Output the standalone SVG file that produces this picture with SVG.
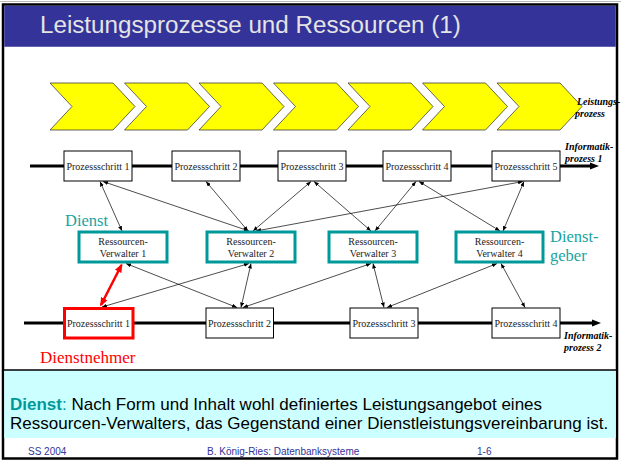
<svg xmlns="http://www.w3.org/2000/svg" width="621" height="461" viewBox="0 0 621 461">
<style>
.ps{fill:#fff;stroke:#000;stroke-width:1}
.rv{fill:#fff;stroke:#009999;stroke-width:3}
.chev{fill:#ffff00;stroke:#404040;stroke-width:0.8}
.t10{font-family:"Liberation Serif","Times New Roman",serif;font-size:10px;fill:#222;text-anchor:middle}
.lbl{font-family:"Liberation Serif","Times New Roman",serif;font-size:10px;font-weight:bold;font-style:italic;fill:#000}
.teal{font-family:"Liberation Serif","Times New Roman",serif;font-size:16.5px;fill:#1aa3a3}
.con{stroke:#000;stroke-width:0.7;fill:none;marker-start:url(#ah);marker-end:url(#ah)}
.main{stroke:#000;stroke-width:3;fill:none;marker-end:url(#big)}
.foot{font-family:"Liberation Sans",Arial,sans-serif;font-size:10px;fill:#333399}
.body{font-family:"Liberation Sans",Arial,sans-serif;font-size:17px;fill:#000}
</style>
<defs>
<marker id="ah" viewBox="0 0 10 8" refX="10" refY="4" markerWidth="5" markerHeight="4" markerUnits="userSpaceOnUse" orient="auto-start-reverse"><path d="M0,0 L10,4 L0,8 z" fill="#000"/></marker>
<marker id="big" viewBox="0 0 10 8" refX="0" refY="4" markerWidth="9" markerHeight="7.2" markerUnits="userSpaceOnUse" orient="auto"><path d="M0,0 L10,4 L0,8 z" fill="#000"/></marker>
<marker id="red" viewBox="0 0 10 8" refX="8" refY="4" markerWidth="9" markerHeight="7.2" markerUnits="userSpaceOnUse" orient="auto-start-reverse"><path d="M0,0 L10,4 L0,8 z" fill="#ff0000"/></marker>
</defs>

<!-- slide frame -->
<g id="frame">
<rect x="0" y="0" width="621" height="461" fill="#fff"/>
<line x1="0" y1="1.5" x2="621" y2="1.5" stroke="#bbb" stroke-width="1"/>
<rect x="3" y="4.5" width="614" height="454" fill="#fff" stroke="#000" stroke-width="2.5"/>
<rect x="4.25" y="5.75" width="611.5" height="41" fill="#333399"/>
<text x="40" y="33" font-family="'Liberation Sans',Arial,sans-serif" font-size="24.2" fill="#e4e4e4">Leistungsprozesse und Ressourcen (1)</text>
</g>

<!-- Leistungsprozess chevrons -->
<g id="leistungsprozess">
<polygon class="chev" points="50,83 113,83 135,106.5 113,130 50,130 72,106.5"/>
<polygon class="chev" points="124.5,83 187.5,83 209.5,106.5 187.5,130 124.5,130 146.5,106.5"/>
<polygon class="chev" points="199,83 262,83 284,106.5 262,130 199,130 221,106.5"/>
<polygon class="chev" points="273.5,83 336.5,83 358.5,106.5 336.5,130 273.5,130 295.5,106.5"/>
<polygon class="chev" points="348,83 411,83 433,106.5 411,130 348,130 370,106.5"/>
<polygon class="chev" points="422.5,83 485.5,83 507.5,106.5 485.5,130 422.5,130 444.5,106.5"/>
<polygon class="chev" points="497,83 560,83 582,106.5 560,130 497,130 519,106.5"/>
<text class="lbl" x="577" y="104.5" font-size="9.5">Leistungs-</text>
<text class="lbl" x="575" y="116.5" font-size="9.5">prozess</text>
</g>

<!-- process lines -->
<g id="prozesslinien">
<line class="main" x1="30" y1="166" x2="590" y2="166"/>
<line class="main" x1="24" y1="323" x2="592" y2="323"/>
</g>

<!-- connectors -->
<g id="connectors">
<line class="con" x1="100" y1="181.5" x2="122" y2="231"/>
<line class="con" x1="103" y1="181.5" x2="249" y2="231"/>
<line class="con" x1="206" y1="181.5" x2="248" y2="231"/>
<line class="con" x1="311" y1="181.5" x2="253" y2="231"/>
<line class="con" x1="256" y1="231" x2="523" y2="181.5"/>
<line class="con" x1="314" y1="181.5" x2="371" y2="231"/>
<line class="con" x1="416" y1="181.5" x2="375" y2="231"/>
<line class="con" x1="419" y1="181.5" x2="500" y2="231"/>
<line class="con" x1="524" y1="181.5" x2="503" y2="231"/>
<line class="con" x1="126" y1="263.5" x2="237" y2="307.5"/>
<line class="con" x1="249" y1="263.5" x2="102" y2="307"/>
<line class="con" x1="251" y1="263.5" x2="241" y2="307.5"/>
<line class="con" x1="371" y1="263.5" x2="243" y2="307.5"/>
<line class="con" x1="373" y1="263.5" x2="384" y2="307.5"/>
<line class="con" x1="497" y1="263.5" x2="387" y2="307.5"/>
<line class="con" x1="501" y1="263.5" x2="525" y2="307.5"/>
<line x1="121.5" y1="265" x2="101" y2="305" stroke="#ff0000" stroke-width="2.5" marker-start="url(#red)" marker-end="url(#red)"/>
</g>

<!-- Informatikprozess 1 -->
<g id="ip1-ps1"><rect class="ps" x="64" y="151" width="68" height="30"/><text class="t10" x="98" y="170">Prozessschritt 1</text></g>
<g id="ip1-ps2"><rect class="ps" x="172" y="151" width="68" height="30"/><text class="t10" x="206" y="170">Prozessschritt 2</text></g>
<g id="ip1-ps3"><rect class="ps" x="278" y="151" width="68" height="30"/><text class="t10" x="312" y="170">Prozessschritt 3</text></g>
<g id="ip1-ps4"><rect class="ps" x="383" y="151" width="68" height="30"/><text class="t10" x="417" y="170">Prozessschritt 4</text></g>
<g id="ip1-ps5"><rect class="ps" x="492" y="151" width="68" height="30"/><text class="t10" x="526" y="170">Prozessschritt 5</text></g>
<g id="ip1-label">
<text class="lbl" x="565" y="150">Informatik-</text>
<text class="lbl" x="565" y="161.5">prozess 1</text>
</g>

<!-- Ressourcen-Verwalter -->
<g id="rv1"><rect class="rv" x="79" y="232" width="88" height="30"/><text class="t10" x="123" y="245">Ressourcen-</text><text class="t10" x="123" y="256.5">Verwalter 1</text></g>
<g id="rv2"><rect class="rv" x="207" y="232" width="88" height="30"/><text class="t10" x="251" y="245">Ressourcen-</text><text class="t10" x="251" y="256.5">Verwalter 2</text></g>
<g id="rv3"><rect class="rv" x="329" y="232" width="88" height="30"/><text class="t10" x="373" y="245">Ressourcen-</text><text class="t10" x="373" y="256.5">Verwalter 3</text></g>
<g id="rv4"><rect class="rv" x="456" y="232" width="87" height="30"/><text class="t10" x="499.5" y="245">Ressourcen-</text><text class="t10" x="499.5" y="256.5">Verwalter 4</text></g>
<g id="dienst-label"><text class="teal" x="65" y="226" font-size="17">Dienst</text></g>
<g id="dienstgeber-label">
<text class="teal" x="550" y="242">Dienst-</text>
<text class="teal" x="550" y="261">geber</text>
</g>

<!-- Informatikprozess 2 -->
<g id="ip2-ps1"><rect x="64.5" y="308.5" width="68.5" height="29.5" fill="#fff" stroke="#ff0000" stroke-width="3"/><text class="t10" x="98.5" y="327">Prozessschritt 1</text></g>
<g id="ip2-ps2"><rect class="ps" x="206" y="308" width="67.5" height="30"/><text class="t10" x="239.5" y="327">Prozessschritt 2</text></g>
<g id="ip2-ps3"><rect class="ps" x="350" y="308" width="68" height="30"/><text class="t10" x="384" y="327">Prozessschritt 3</text></g>
<g id="ip2-ps4"><rect class="ps" x="492" y="308" width="68" height="30"/><text class="t10" x="526" y="327">Prozessschritt 4</text></g>
<g id="ip2-label">
<text class="lbl" x="564" y="339">Informatik-</text>
<text class="lbl" x="564" y="351">prozess 2</text>
</g>
<g id="dienstnehmer-label"><text x="40" y="363" font-family="'Liberation Serif','Times New Roman',serif" font-size="17" fill="#ff0000">Dienstnehmer</text></g>

<!-- definition box -->
<g id="definition">
<rect x="4.25" y="370" width="611.5" height="68" fill="#ccffff"/>
<line x1="3" y1="370" x2="617" y2="370" stroke="#000" stroke-width="1.5"/>
<text class="body" x="10" y="410"><tspan fill="#009999" font-weight="bold">Dienst</tspan><tspan fill="#009999">:</tspan> Nach Form und Inhalt wohl definiertes Leistungsangebot eines</text>
<text class="body" x="10" y="429">Ressourcen-Verwalters, das Gegenstand einer Dienstleistungsvereinbarung ist.</text>
</g>

<!-- footer -->
<g id="footer">
<text class="foot" x="28" y="455">SS 2004</text>
<text class="foot" x="207" y="455">B. König-Ries: Datenbanksysteme</text>
<text class="foot" x="477" y="455">1-6</text>
</g>
</svg>
